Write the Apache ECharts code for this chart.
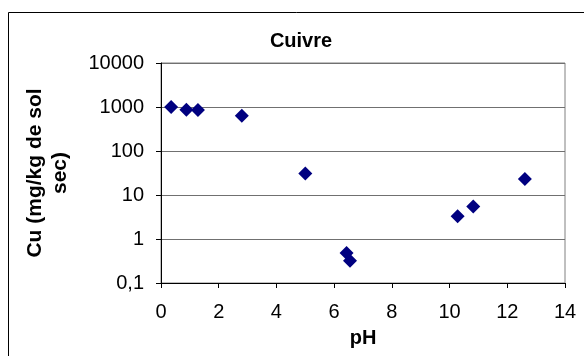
<!DOCTYPE html>
<html>
<head>
<meta charset="utf-8">
<script src="https://cdn.jsdelivr.net/npm/echarts@6/dist/echarts.min.js"></script>
<style>html,body{margin:0;padding:0;background:#fff;}#c{width:584px;height:356px;}</style>
</head>
<body>
<div id="c"></div>
<script>
var titleText = 'Cuivre';
var xName = 'pH';
var yName = 'Cu (mg/kg de sol\nsec)';
var ph = [0.35, 0.88, 1.28, 2.8, 5.0, 6.43, 6.55, 10.28, 10.82, 12.61];
var cu = [1000, 870, 860, 630, 31, 0.48, 0.32, 3.3, 5.5, 23];

var font = 'Liberation Sans, Arial, sans-serif';
var chart = echarts.init(document.getElementById('c'), null, {renderer: 'canvas'});
var pts = ph.map(function (x, i) { return [x, cu[i]]; });
chart.setOption({
  animation: false,
  backgroundColor: '#fff',
  graphic: [{
    type: 'rect', shape: {x: 8.5, y: 12.5, width: 700, height: 500},
    style: {fill: 'none', stroke: '#000', lineWidth: 1}, silent: true, z: -1
  }],
  title: {
    text: titleText, left: 296, top: 26, textAlign: 'center',
    textStyle: {fontFamily: font, fontSize: 20, fontWeight: 'bold', color: '#000'}
  },
  grid: {left: 161, right: 19, top: 63, bottom: 73, show: true, borderColor: '#808080', borderWidth: 1, containLabel: false},
  xAxis: {
    type: 'value', min: 0, max: 14, interval: 2,
    name: xName, nameLocation: 'middle', nameGap: 45,
    nameTextStyle: {fontFamily: font, fontSize: 20, fontWeight: 'bold', color: '#000'},
    axisLine: {show: true, lineStyle: {color: '#000', width: 1}},
    axisTick: {show: true, length: 5, lineStyle: {color: '#000'}},
    axisLabel: {fontFamily: font, fontSize: 20, color: '#000', margin: 19},
    splitLine: {show: false}
  },
  yAxis: {
    type: 'log', logBase: 10, min: 0.1, max: 10000,
    name: yName, nameLocation: 'middle', nameGap: 88, nameRotate: 90,
    nameTextStyle: {fontFamily: font, fontSize: 21, fontWeight: 'bold', color: '#000', lineHeight: 25, align: 'center'},
    axisLine: {show: true, lineStyle: {color: '#000', width: 1}},
    axisTick: {show: true, length: 5, lineStyle: {color: '#000'}},
    axisLabel: {fontFamily: font, fontSize: 20, color: '#000', margin: 17,
      formatter: function (v) { return String(v).replace('.', ','); }},
    splitLine: {show: true, lineStyle: {color: '#707070', width: 1}},
    minorTick: {show: false}
  },
  series: [{
    type: 'scatter', data: pts, symbol: 'diamond', symbolSize: [14, 14],
    itemStyle: {color: '#000080', opacity: 1}
  }]
});
</script>
</body>
</html>
